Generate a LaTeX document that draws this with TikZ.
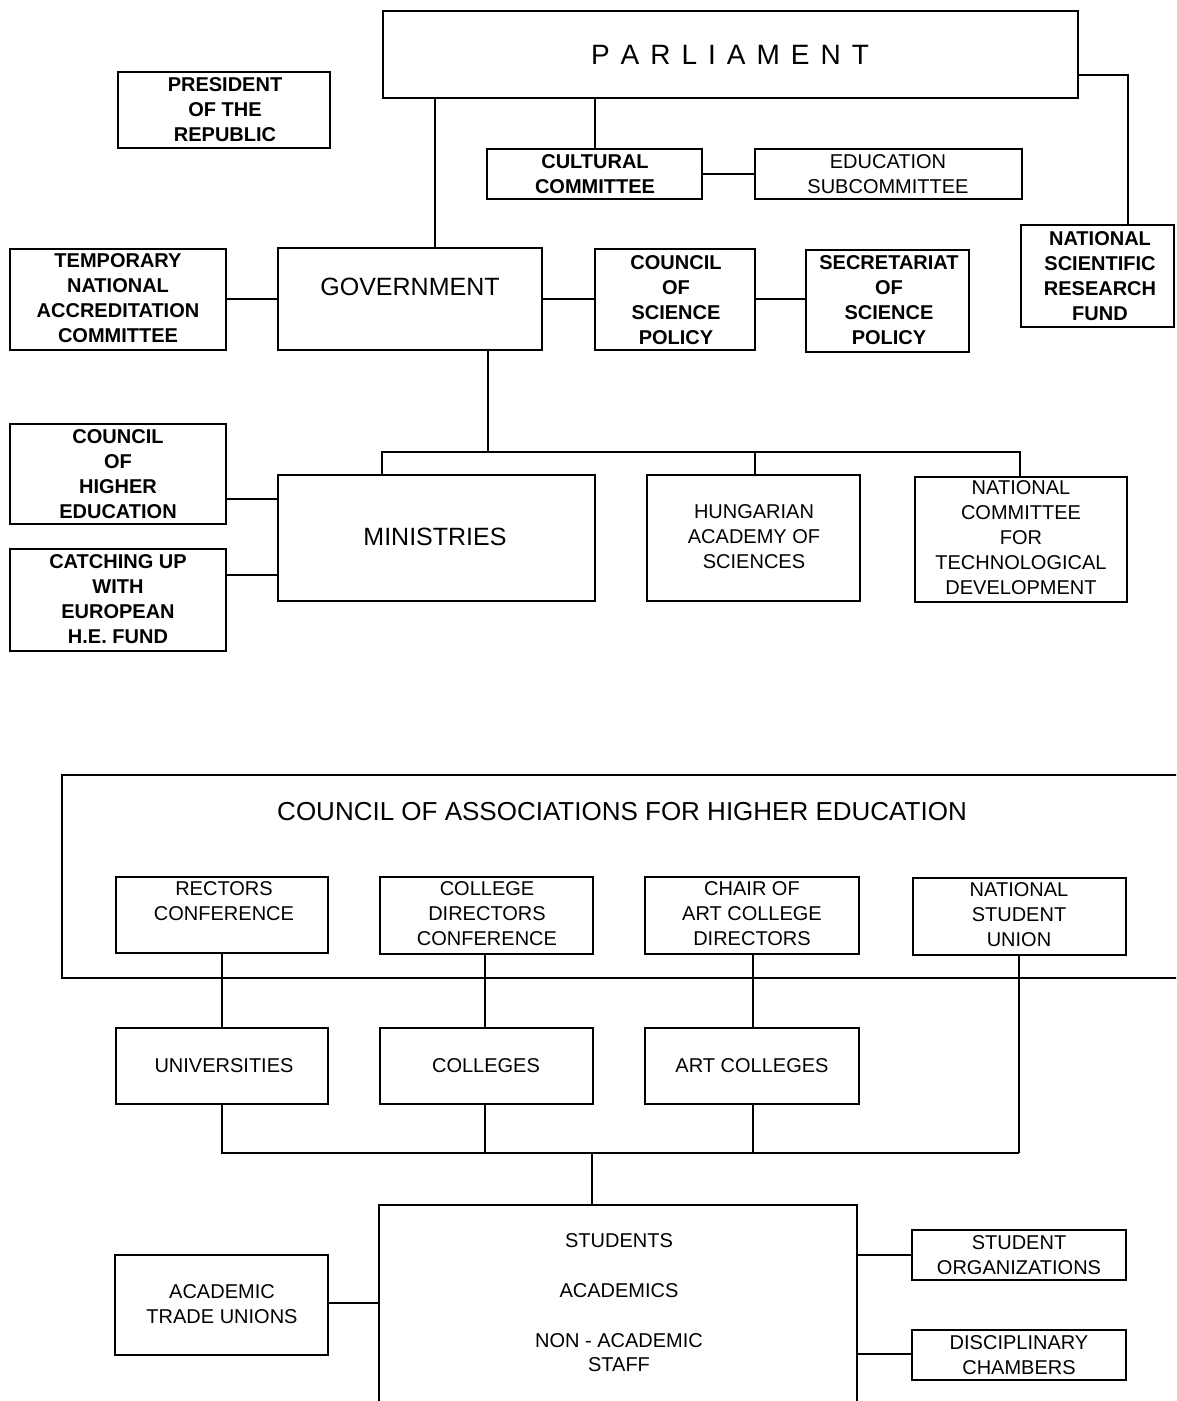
\documentclass[tikz,border=0pt]{standalone}
\usepackage{fontspec}
\setmainfont{Liberation Sans}
\newcommand\lab{\fontsize{20}{25}\selectfont}
\newcommand\biglab{\fontsize{25}{30}\selectfont}
\newcommand\parlfont{\fontsize{28}{32}\selectfont}
\tikzset{
  box/.style={draw, line width=2.6pt, inner sep=0pt, outer sep=0pt, anchor=north west},
  conn/.style={line width=2.4pt},
  thin conn/.style={line width=1.6pt},
  txt/.style={font=\lab, align=center, inner sep=0pt},
  btxt/.style={font=\lab\bfseries, align=center, inner sep=0pt},
}
% \bx{name}{x1}{y1}{x2}{y2}
\newcommand\bx[5]{\node[box, minimum width={#4pt-#2pt}, minimum height={#5pt-#3pt}] (#1) at (#2,#3) {};}
\begin{document}
\begin{tikzpicture}[x=1pt,y=-1pt]
\useasboundingbox (0,0) rectangle (1176,1401);
\clip (0,0) rectangle (1176,1401);
% ---------- boxes, top part ----------
\bx{parl}{383}{11}{1078}{98}
\bx{pres}{118}{72}{330}{148}
\bx{cult}{487}{149}{702}{199}
\bx{edu}{755}{149}{1022}{199}
\bx{nsrf}{1021}{225}{1174}{327}
\bx{temp}{10}{249}{226}{350}
\bx{gov}{278}{248}{542}{350}
\bx{csp}{595}{249}{755}{350}
\bx{sec}{806}{250}{969}{352}
\bx{che}{10}{424}{226}{524}
\bx{catch}{10}{549}{226}{651}
\bx{min}{278}{475}{595}{601}
\bx{has}{647}{475}{860}{601}
\bx{nctd}{915}{477}{1127}{602}
% ---------- boxes, bottom part ----------
\bx{cahe}{62}{775}{1200}{978}
\bx{rect}{116}{877}{328}{953}
\bx{cdc}{380}{877}{593}{954}
\bx{chair}{645}{877}{859}{954}
\bx{nsu}{913}{878}{1126}{955}
\bx{univ}{116}{1028}{328}{1104}
\bx{coll}{380}{1028}{593}{1104}
\bx{art}{645}{1028}{859}{1104}
\bx{stud}{379}{1205}{857}{1420}
\bx{atu}{115}{1255}{328}{1355}
\bx{sorg}{912}{1230}{1126}{1280}
\bx{disc}{912}{1330}{1126}{1380}
% ---------- texts ----------
\node[font=\parlfont, inner sep=0pt] (parlt) at (730,55) {P\hspace{11pt}A\hspace{11pt}R\hspace{11pt}L\hspace{11pt}I\hspace{11pt}A\hspace{11pt}M\hspace{11pt}E\hspace{11pt}N\hspace{11pt}T};
\node[btxt] (prest) at (225,110) {PRESIDENT\\OF THE\\REPUBLIC};
\node[btxt] (cultt) at (595,174) {CULTURAL\\COMMITTEE};
\node[txt] (edut) at (888,174) {EDUCATION\\SUBCOMMITTEE};
\node[btxt] (nsrft) at (1100,276) {NATIONAL\\SCIENTIFIC\\RESEARCH\\FUND};
\node[btxt] (tempt) at (118,298) {TEMPORARY\\NATIONAL\\ACCREDITATION\\COMMITTEE};
\node[font=\biglab, inner sep=0pt] (govt) at (410,287) {GOVERNMENT};
\node[btxt] (cspt) at (676,300) {COUNCIL\\OF\\SCIENCE\\POLICY};
\node[btxt] (sect) at (889,300) {SECRETARIAT\\OF\\SCIENCE\\POLICY};
\node[btxt] (chet) at (118,474) {COUNCIL\\OF\\HIGHER\\EDUCATION};
\node[btxt] (catcht) at (118,599) {CATCHING UP\\WITH\\EUROPEAN\\H.E. FUND};
\node[font=\biglab, inner sep=0pt] (mint) at (435,537) {MINISTRIES};
\node[txt] (hast) at (754,537) {HUNGARIAN\\ACADEMY OF\\SCIENCES};
\node[txt] (nctdt) at (1021,538) {NATIONAL\\COMMITTEE\\FOR\\TECHNOLOGICAL\\DEVELOPMENT};
\node[font=\fontsize{26}{30}\selectfont, inner sep=0pt] (cahet) at (622,812) {COUNCIL OF ASSOCIATIONS FOR HIGHER EDUCATION};
\node[txt] (rectt) at (224,901) {RECTORS\\CONFERENCE};
\node[txt] (cdct) at (487,914) {COLLEGE\\DIRECTORS\\CONFERENCE};
\node[txt] (chairt) at (752,914) {CHAIR OF\\ART COLLEGE\\DIRECTORS};
\node[txt] (nsut) at (1019,915) {NATIONAL\\STUDENT\\UNION};
\node[txt] (univt) at (224,1066) {UNIVERSITIES};
\node[txt] (collt) at (486,1066) {COLLEGES};
\node[txt] (artt) at (752,1066) {ART COLLEGES};
\node[txt] (studt1) at (619,1241) {STUDENTS};
\node[txt] (studt2) at (619,1291) {ACADEMICS};
\node[txt, font=\fontsize{20}{24}\selectfont] (studt3) at (619,1353) {NON - ACADEMIC\\STAFF};
\node[txt] (atut) at (222,1304) {ACADEMIC\\TRADE UNIONS};
\node[txt] (sorgt) at (1019,1255) {STUDENT\\ORGANIZATIONS};
\node[txt] (disct) at (1019,1355) {DISCIPLINARY\\CHAMBERS};
% ---------- connectors, top ----------
\draw[conn] (435,0 |- parl.south) -- (435,0 |- gov.north);
\draw[conn] (595,0 |- parl.south) -- (595,0 |- cult.north);
\draw[conn] (cult.east) -- (edu.west);
\draw[conn] (parl.east |- 0,75) -| (nsrf.north -| 1128,0);
\draw[conn] (temp.east |- 0,299) -- (gov.west |- 0,299);
\draw[conn] (gov.east |- 0,299) -- (csp.west |- 0,299);
\draw[conn] (csp.east |- 0,299) -- (sec.west |- 0,299);
\coordinate (gbus) at (488,452);
\draw[conn] (488,0 |- gov.south) -- (gbus);
\draw[conn] (382,0 |- min.north) -- (382,452) -- (1020,452) -- (1020,0 |- nctd.north);
\draw[conn] (755,452) -- (755,0 |- has.north);
\draw[conn] (che.east |- 0,499) -- (min.west |- 0,499);
\draw[conn] (catch.east |- 0,575) -- (min.west |- 0,575);
% ---------- connectors, bottom ----------
\draw[thin conn] (222,0 |- rect.south) -- (222,0 |- univ.north);
\draw[thin conn] (485,0 |- cdc.south) -- (485,0 |- coll.north);
\draw[thin conn] (753,0 |- chair.south) -- (753,0 |- art.north);
\coordinate (lbus) at (222,1153);
\coordinate (rbus) at (1019,1153);
\draw[conn] (222,0 |- univ.south) -- (lbus) -- (rbus);
\draw[thin conn] (1019,0 |- nsu.south) -- (rbus);
\draw[conn] (485,0 |- coll.south) -- (485,1153);
\draw[conn] (753,0 |- art.south) -- (753,1153);
\draw[conn] (592,1153) -- (592,0 |- stud.north);
\draw[conn] (atu.east |- 0,1303) -- (stud.west |- 0,1303);
\draw[conn] (stud.east |- 0,1255) -- (sorg.west |- 0,1255);
\draw[conn] (stud.east |- 0,1354) -- (disc.west |- 0,1354);
\end{tikzpicture}
\end{document}
